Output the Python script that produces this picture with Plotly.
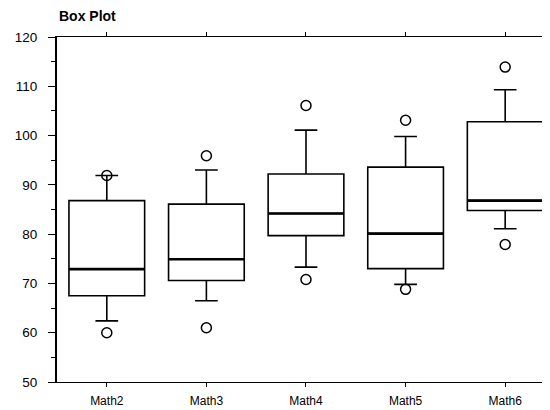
import plotly.graph_objects as go

categories = ["Math2", "Math3", "Math4", "Math5", "Math6"]
q1 = [67.5, 70.6, 79.7, 73.0, 84.8]
median = [72.9, 74.9, 84.2, 80.1, 86.8]
q3 = [86.8, 86.1, 92.2, 93.6, 102.8]
lower_whisker = [62.4, 66.5, 73.3, 69.8, 81.1]
upper_whisker = [91.9, 93.0, 101.1, 99.8, 109.3]
outlier_cats = ["Math2", "Math2", "Math3", "Math3", "Math4", "Math4",
                "Math5", "Math5", "Math6", "Math6"]
outlier_vals = [60.0, 91.9, 61.0, 95.9, 70.8, 106.1, 68.8, 103.1, 77.9, 113.9]

W, H = 542, 402  # page body has an 8px margin
BOX_W = 0.76

fig = go.Figure()
fig.add_trace(go.Box(
    x=categories, q1=q1, median=median, q3=q3,
    lowerfence=lower_whisker, upperfence=upper_whisker,
    boxpoints=False, fillcolor="white", width=BOX_W,
    line=dict(color="black", width=1.6), whiskerwidth=0.3,
    showlegend=False, hoverinfo="skip",
))
# thicker median line overlay
fig.add_trace(go.Box(
    x=categories, q1=median, median=median, q3=median,
    lowerfence=median, upperfence=median,
    boxpoints=False, fillcolor="rgba(0,0,0,0)", width=BOX_W,
    line=dict(color="black", width=2.6), whiskerwidth=0,
    showlegend=False, hoverinfo="skip",
))
fig.add_trace(go.Scatter(
    x=outlier_cats, y=outlier_vals, mode="markers",
    marker=dict(symbol="circle-open", size=10, color="black",
                line=dict(width=1.5, color="black")),
    showlegend=False, hoverinfo="skip",
))

fig.update_layout(
    width=W, height=H,
    margin=dict(l=49, r=0, t=29, b=28, pad=0),
    paper_bgcolor="white", plot_bgcolor="white",
    boxmode="overlay",
    font=dict(family="Liberation Sans, Arial, sans-serif", size=13, color="black"),
    title=dict(text="<b>Box Plot</b>", font=dict(size=14, color="black"),
               xref="container", x=51/W, xanchor="left",
               yref="container", y=1-8.5/H, yanchor="middle"),
)
fig.update_xaxes(
    type="category", categoryorder="array", categoryarray=categories,
    range=[-0.5, 4.45], showline=True, linecolor="black", linewidth=1.2,
    mirror="ticks", ticks="outside", ticklen=4, tickcolor="black", tickwidth=1.2,
    showgrid=False, zeroline=False, tickfont=dict(size=12),
    ticklabelstandoff=3,
)
fig.update_yaxes(
    range=[50, 120], dtick=10, showline=True, linecolor="black", linewidth=2,
    ticks="outside", ticklen=7, tickcolor="black", tickwidth=1.2,
    minor=dict(dtick=5, ticks="outside", ticklen=4, tickcolor="black", tickwidth=1.2),
    showgrid=False, zeroline=False, tickfont=dict(size=13.5),
    ticklabelstandoff=8,
)

fig.write_html("out.html")
